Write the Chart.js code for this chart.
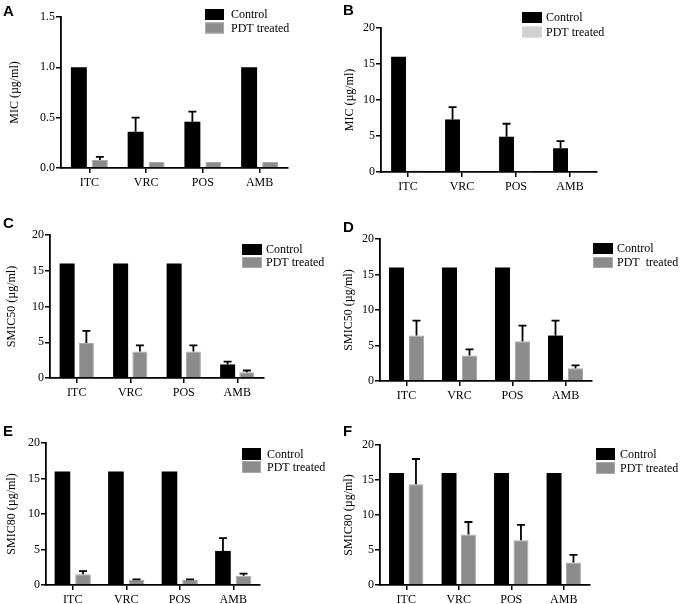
<!DOCTYPE html>
<html>
<head>
<meta charset="utf-8">
<script src="https://cdn.jsdelivr.net/npm/chart.js@4.4.1/dist/chart.umd.min.js"></script>
<style>
  html, body { margin: 0; padding: 0; background: #fff; }
  #wrap { position: relative; width: 680px; height: 604px; overflow: hidden; }
  canvas { position: absolute; }
</style>
</head>
<body>
<div id="wrap">
  <canvas id="cA"></canvas>
  <canvas id="cB"></canvas>
  <canvas id="cC"></canvas>
  <canvas id="cD"></canvas>
  <canvas id="cE"></canvas>
  <canvas id="cF"></canvas>
</div>
<script>
// ---------- DATA ----------
const categories = ['ITC', 'VRC', 'POS', 'AMB'];
const seriesNames = ['Control', 'PDT treated'];

const ticksMIC_A = [0, 0.5, 1.0, 1.5];
const ticks20 = [0, 5, 10, 15, 20];

// Panel A: MIC
const aControl    = [1.0, 0.36, 0.46, 1.0];
const aControlErr = [0, 0.14, 0.10, 0];
const aPdt        = [0.08, 0.06, 0.06, 0.06];
const aPdtErr     = [0.03, 0, 0, 0];

// Panel B: MIC
const bControl    = [16, 7.3, 4.9, 3.3];
const bControlErr = [0, 1.7, 1.8, 1.0];
const bPdt        = [0.25, 0.15, 0.15, 0.15];
const bPdtErr     = [0, 0, 0, 0];

// Panel C: SMIC50
const cControl    = [16, 16, 16, 1.9];
const cControlErr = [0, 0, 0, 0.4];
const cPdt        = [4.9, 3.7, 3.7, 0.8];
const cPdtErr     = [1.7, 0.85, 0.85, 0.25];

// Panel D: SMIC50
const dControl    = [16, 16, 16, 6.4];
const dControlErr = [0, 0, 0, 2.1];
const dPdt        = [6.4, 3.6, 5.6, 1.8];
const dPdtErr     = [2.1, 0.85, 2.2, 0.4];

// Panel E: SMIC80
const eControl    = [16, 16, 16, 4.8];
const eControlErr = [0, 0, 0, 1.8];
const ePdt        = [1.5, 0.7, 0.7, 1.3];
const ePdtErr     = [0.45, 0.1, 0.1, 0.3];

// Panel F: SMIC80
const fControl    = [16, 16, 16, 16];
const fControlErr = [0, 0, 0, 0];
const fPdt        = [14.4, 7.2, 6.4, 3.2];
const fPdtErr     = [3.6, 1.8, 2.2, 1.1];

// ---------- STYLE / LAYOUT ----------
const SERIF = "'Liberation Serif', 'Times New Roman', serif";
const SANS = "'Liberation Sans', Arial, sans-serif";
const GRAY = '#8c8c8c';
const GRAY_EDGE = '#a9a9a9';
const LIGHT = '#d0d0d0';
const LIGHT_EDGE = '#d8d8d8';

const errorBarPlugin = {
  id: 'errorBars',
  afterDatasetsDraw(chart) {
    const ctx = chart.ctx;
    const yScale = chart.scales.y;
    ctx.save();
    ctx.strokeStyle = '#000';
    ctx.lineWidth = 1.8;
    chart.data.datasets.forEach((ds, di) => {
      const meta = chart.getDatasetMeta(di);
      if (!ds.errors) return;
      meta.data.forEach((bar, i) => {
        const e = ds.errors[i];
        if (!e) return;
        const x = bar.x;
        const y0 = yScale.getPixelForValue(ds.data[i]);
        const y1 = yScale.getPixelForValue(ds.data[i] + e);
        ctx.beginPath();
        ctx.moveTo(x, y0);
        ctx.lineTo(x, y1);
        ctx.moveTo(x - 4, y1);
        ctx.lineTo(x + 4, y1);
        ctx.stroke();
      });
    });
    ctx.restore();
  }
};

const boxLegendPlugin = {
  id: 'boxLegend',
  afterDraw(chart, args, opts) {
    const ctx = chart.ctx;
    ctx.save();
    chart.data.datasets.forEach((ds, i) => {
      const y = opts.y + i * opts.rowH;
      ctx.fillStyle = ds.backgroundColor;
      ctx.fillRect(opts.x, y, opts.w, opts.h);
      if (ds.borderWidth) {
        ctx.strokeStyle = ds.borderColor;
        ctx.lineWidth = 1;
        ctx.strokeRect(opts.x + 0.5, y + 0.5, opts.w - 1, opts.h - 1);
      }
      ctx.fillStyle = '#000';
      ctx.font = '12px ' + SERIF;
      ctx.textBaseline = 'middle';
      ctx.textAlign = 'left';
      const label = (opts.labels && opts.labels[i]) || ds.label;
      ctx.fillText(label, opts.textX, y + opts.h / 2 + 0.5);
    });
    // panel letter
    ctx.font = 'bold 15px ' + SANS;
    ctx.textBaseline = 'alphabetic';
    ctx.fillStyle = '#000';
    ctx.fillText(opts.letter, opts.letterX, opts.letterY);
    ctx.restore();
  }
};

function makePanel(id, p) {
  const cv = document.getElementById(id);
  cv.width = p.W; cv.height = p.H;
  cv.style.left = p.X + 'px'; cv.style.top = p.Y + 'px';
  cv.style.width = p.W + 'px'; cv.style.height = p.H + 'px';
  const ticks = p.ticks;
  new Chart(cv, {
    type: 'bar',
    data: {
      labels: categories,
      datasets: [
        { label: seriesNames[0], data: p.control, errors: p.controlErr,
          backgroundColor: '#000', borderWidth: 0,
          barPercentage: p.barPct, categoryPercentage: p.catPct },
        { label: seriesNames[1], data: p.pdt, errors: p.pdtErr,
          backgroundColor: p.pdtColor, borderColor: p.pdtEdge, borderWidth: 1,
          barPercentage: p.barPct, categoryPercentage: p.catPct }
      ]
    },
    options: {
      responsive: false,
      animation: false,
      devicePixelRatio: 1,
      layout: { padding: { left: 0, top: p.T, right: p.W - p.R, bottom: 0 } },
      plugins: {
        legend: { display: false },
        tooltip: { enabled: false },
        boxLegend: p.legend
      },
      scales: {
        x: {
          offset: true,
          grid: { display: true, drawOnChartArea: false, drawTicks: true, tickLength: 5, color: '#000', lineWidth: 1.5, offset: false },
          border: { display: true, color: '#000', width: 1.8 },
          ticks: { color: '#000', font: { family: SERIF, size: 12 }, padding: 3, maxRotation: 0, autoSkip: false },
          afterFit(s) { s.height = p.H - p.B; }
        },
        y: {
          min: ticks[0], max: ticks[ticks.length - 1],
          grid: { display: true, drawOnChartArea: false, drawTicks: true, tickLength: 5, color: '#000', lineWidth: 1.5 },
          border: { display: true, color: '#000', width: 1.8 },
          ticks: {
            stepSize: ticks[1] - ticks[0], color: '#000', padding: 1,
            font: { family: SERIF, size: 12 },
            callback: (v) => p.decimals ? Number(v).toFixed(p.decimals) : String(v)
          },
          title: { display: true, text: p.title, color: '#000', font: { family: SERIF, size: 12 },
                   padding: { top: p.titlePad, bottom: 0 } },
          afterFit(s) { s.width = p.L; }
        }
      }
    },
    plugins: [errorBarPlugin, boxLegendPlugin]
  });
}

makePanel('cA', { X: 0, Y: 0, W: 340, H: 200, L: 61, T: 17, R: 288, B: 168,
  control: aControl, controlErr: aControlErr, pdt: aPdt, pdtErr: aPdtErr,
  ticks: ticksMIC_A, decimals: 1, title: 'MIC (µg/ml)', titlePad: 8,
  pdtColor: GRAY, pdtEdge: GRAY_EDGE, barPct: 0.76, catPct: 0.74,
  legend: { x: 205, y: 9, w: 19, h: 11, rowH: 13.5, textX: 231, letter: 'A', letterX: 3, letterY: 16 } });

makePanel('cB', { X: 340, Y: 0, W: 340, H: 200, L: 41, T: 28, R: 257, B: 172,
  control: bControl, controlErr: bControlErr, pdt: bPdt, pdtErr: bPdtErr,
  ticks: ticks20, decimals: 0, title: 'MIC (µg/ml)', titlePad: 3,
  pdtColor: LIGHT, pdtEdge: LIGHT_EDGE, barPct: 0.79, catPct: 0.70,
  legend: { x: 182, y: 12, w: 20, h: 11, rowH: 14.5, textX: 206, letter: 'B', letterX: 3, letterY: 15 } });

makePanel('cC', { X: 0, Y: 200, W: 340, H: 200, L: 50, T: 35, R: 264, B: 178,
  control: cControl, controlErr: cControlErr, pdt: cPdt, pdtErr: cPdtErr,
  ticks: ticks20, decimals: 0, title: 'SMIC50 (µg/ml)', titlePad: 5,
  pdtColor: GRAY, pdtEdge: GRAY_EDGE, barPct: 0.78, catPct: 0.72,
  legend: { x: 242, y: 44, w: 20, h: 11, rowH: 13, textX: 266, letter: 'C', letterX: 3, letterY: 28 } });

makePanel('cD', { X: 340, Y: 200, W: 340, H: 200, L: 40, T: 39, R: 252, B: 181,
  control: dControl, controlErr: dControlErr, pdt: dPdt, pdtErr: dPdtErr,
  ticks: ticks20, decimals: 0, title: 'SMIC50 (µg/ml)', titlePad: 2,
  pdtColor: GRAY, pdtEdge: GRAY_EDGE, barPct: 0.75, catPct: 0.755,
  legend: { x: 253, y: 43, w: 20, h: 11, rowH: 14, textX: 277, labels: ['Control', 'PDT  treated'], letter: 'D', letterX: 3, letterY: 32 } });

makePanel('cE', { X: 0, Y: 400, W: 340, H: 204, L: 46, T: 43, R: 260, B: 185,
  control: eControl, controlErr: eControlErr, pdt: ePdt, pdtErr: ePdtErr,
  ticks: ticks20, decimals: 0, title: 'SMIC80 (µg/ml)', titlePad: 5,
  pdtColor: GRAY, pdtEdge: GRAY_EDGE, barPct: 0.76, catPct: 0.77,
  legend: { x: 242, y: 48, w: 19, h: 12, rowH: 13, textX: 267, letter: 'E', letterX: 3, letterY: 36 } });

makePanel('cF', { X: 340, Y: 400, W: 340, H: 204, L: 40, T: 45, R: 250, B: 185,
  control: fControl, controlErr: fControlErr, pdt: fPdt, pdtErr: fPdtErr,
  ticks: ticks20, decimals: 0, title: 'SMIC80 (µg/ml)', titlePad: 2,
  pdtColor: GRAY, pdtEdge: GRAY_EDGE, barPct: 0.77, catPct: 0.74,
  legend: { x: 256, y: 48, w: 19, h: 12, rowH: 14, textX: 280, letter: 'F', letterX: 3, letterY: 36 } });
</script>
</body>
</html>
